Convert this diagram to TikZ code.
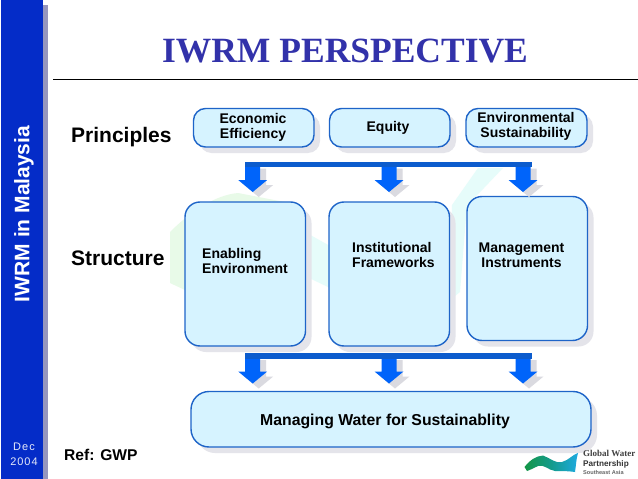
\documentclass[tikz,border=0pt]{standalone}
\usepackage{fontspec}
\setmainfont{Liberation Sans}
\newfontfamily\titlefont{Liberation Serif}
\usetikzlibrary{calc}
\definecolor{sidebar}{RGB}{4,44,200}
\definecolor{sideshadow}{RGB}{150,150,190}
\definecolor{titleblue}{RGB}{50,50,170}
\definecolor{boxfill}{RGB}{214,243,255}
\definecolor{boxline}{RGB}{30,100,200}
\definecolor{shadowgrey}{RGB}{228,228,234}
\definecolor{arrowshadow}{RGB}{218,218,224}
\definecolor{barblue}{RGB}{12,92,205}
\definecolor{arrowblue}{RGB}{0,100,250}
\definecolor{mapgreen}{RGB}{232,250,232}
\definecolor{mapcyan}{RGB}{230,252,250}
\definecolor{logogreen}{RGB}{20,150,70}
\definecolor{logomid}{RGB}{20,155,140}
\definecolor{logoblue}{RGB}{30,170,225}
\tikzset{
  x=1pt,y=-1pt,
  lbl/.style={font=\fontsize{14}{15}\selectfont\bfseries,inner sep=0pt,text=black},
  rowlbl/.style={font=\fontsize{21}{24}\selectfont\bfseries,inner sep=0pt,anchor=base west,text=black},
  bar/.style={barblue,line width=5.5pt},
}
% \flowbox{name}{x1}{y1}{x2}{y2}{radius}
\newcommand{\flowbox}[6]{%
  \fill[shadowgrey,rounded corners=#6pt] (#2+6,#3+6) rectangle (#4+6,#5+6);
  \node[draw=boxline,line width=1.4pt,fill=boxfill,rounded corners=#6pt,inner sep=0pt,outer sep=0pt,
        minimum width={(#4)-(#2)},minimum height={(#5)-(#3)}] (#1) at ({((#2)+(#4))/2},{((#3)+(#5))/2}) {};
}
% \blockarrow{coordinate at the top of the shaft}{head top offset}{tip offset}
\newcommand{\blockarrow}[3]{%
  \fill[arrowshadow] ($(#1)+(6,1.5)$) -- ($(#1)+(13.5,1.5)$) -- ($(#1)+(13.5,#2+5)$) -- ($(#1)+(20.5,#2+5)$) -- ($(#1)+(6,#3+5)$) -- ($(#1)+(-8.5,#2+5)$) -- cycle;
  \fill[arrowblue] ($(#1)+(-7.5,0)$) -- ($(#1)+(7.5,0)$) -- ($(#1)+(7.5,#2)$) -- ($(#1)+(14.5,#2)$) -- ($(#1)+(0,#3)$) -- ($(#1)+(-14.5,#2)$) -- ($(#1)+(-7.5,#2)$) -- cycle;
}
\begin{document}
\begin{tikzpicture}
\useasboundingbox (0,0) rectangle (638,479);
\fill[white] (0,0) rectangle (638,479);
% faint map
\fill[mapgreen] (170,232) .. controls (190,212) and (215,195) .. (238,193) -- (300,205) -- (305,285) -- (185,290) -- (170,283) -- cycle;
\fill[mapcyan] (305,232) -- (330,246) -- (330,288) -- (305,276) -- cycle;
\fill[mapcyan] (503,168) -- (478,168) -- (452,205) -- (450,300) -- (460,292) -- (467,205) -- (484,188) -- cycle;
% side bar
\fill[sideshadow] (43,5) rectangle (48,479);
\fill[sidebar] (1,0) rectangle (43,479);
\node[rotate=90,inner sep=0pt,text=white,font=\fontsize{21}{24}\selectfont\bfseries] (side) at (24,214) {IWRM in Malaysia};
\node[inner sep=0pt,text=white!90!sidebar,font=\fontsize{11}{15}\selectfont\addfontfeatures{LetterSpace=9},align=center] (date) at (24,454) {Dec\\2004};
% title
\node[inner sep=0pt,text=titleblue,font=\titlefont\fontsize{35.5}{40}\selectfont\bfseries] (title) at (345,51) {IWRM PERSPECTIVE};
\coordinate (ruleL) at (53,79.5);
\coordinate (ruleR) at (638,79.5);
\draw[black,line width=0.8pt] (ruleL) -- (ruleR);
% row labels
\node[rowlbl] (principles) at (71,142) {Principles};
\node[rowlbl] (structure) at (71,265) {Structure};
\node[inner sep=0pt,anchor=base west,font=\fontsize{15.6}{18}\selectfont\bfseries] (ref) at (64,460) {Ref: GWP};
% boxes
\flowbox{eco}{193.5}{108.5}{314}{147}{12}
\flowbox{equity}{329.5}{108.5}{450}{147}{12}
\flowbox{env}{466}{108.5}{587}{147}{12}
\flowbox{enabling}{185}{202}{305.5}{346}{15}
\flowbox{inst}{329}{202}{449.5}{346}{15}
\flowbox{mgmt}{467}{196.5}{587.5}{340.5}{15}
\flowbox{water}{191}{391.5}{591}{447}{18}
% box texts
\node[lbl,align=center] at (253,127) {Economic\\Efficiency};
\node[lbl] at (388,128) {Equity};
\node[lbl,align=center] at (526,126.5) {Environmental\\Sustainability};
\node[lbl,align=left,anchor=west] at (202,260.5) {Enabling\\Environment};
\node[lbl,align=left,anchor=west] at (352,255) {Institutional\\Frameworks};
\node[lbl,align=center] at (521.5,255) {Management\\Instruments};
\node[inner sep=0pt,font=\fontsize{15.8}{18}\selectfont\bfseries] at (385,421.5) {Managing Water for Sustainablity};
% top connector
\coordinate (topL) at (245,164.5);
\coordinate (topR) at (531.7,164.5);
\coordinate (ta) at (252.7,167);
\coordinate (tb) at (389,167);
\coordinate (tc) at (523,167);
\blockarrow{ta}{13}{25}
\blockarrow{tb}{13}{25}
\blockarrow{tc}{13}{25}
\draw[bar] (topL) -- (topR);
% bottom connector
\coordinate (botL) at (245,356);
\coordinate (botR) at (531.7,356);
\coordinate (ba) at (252.7,358.5);
\coordinate (bb) at (389,358.5);
\coordinate (bc) at (523,358.5);
\blockarrow{ba}{13}{25}
\blockarrow{bb}{13}{25}
\blockarrow{bc}{13}{25}
\draw[bar] (botL) -- (botR);
% logo
\shade[left color=logogreen,right color=logoblue,middle color=logomid]
  (524.5,467) .. controls (530,460) and (536,456) .. (543,455.5)
  .. controls (550,458) and (556,464) .. (562,462)
  .. controls (569,460) and (572,455) .. (578,453)
  .. controls (576,460) and (576,466) .. (575,472)
  .. controls (568,471) and (562,471) .. (555,471)
  .. controls (548,470) and (544,464) .. (538,466)
  .. controls (534,468) and (530,470) .. (527,471) -- cycle;
\node[inner sep=0pt,anchor=base west,text=black!75,font=\titlefont\fontsize{9}{10}\selectfont\bfseries] (gw) at (583,456) {Global Water};
\node[inner sep=0pt,anchor=base west,text=black!80,font=\fontsize{8.2}{10}\selectfont\bfseries] (pa) at (583,466) {Partnership};
\node[inner sep=0pt,anchor=base west,text=black!60,font=\fontsize{5.6}{10}\selectfont\bfseries] (sa) at (583,474) {Southeast Asia};
\end{tikzpicture}
\end{document}
